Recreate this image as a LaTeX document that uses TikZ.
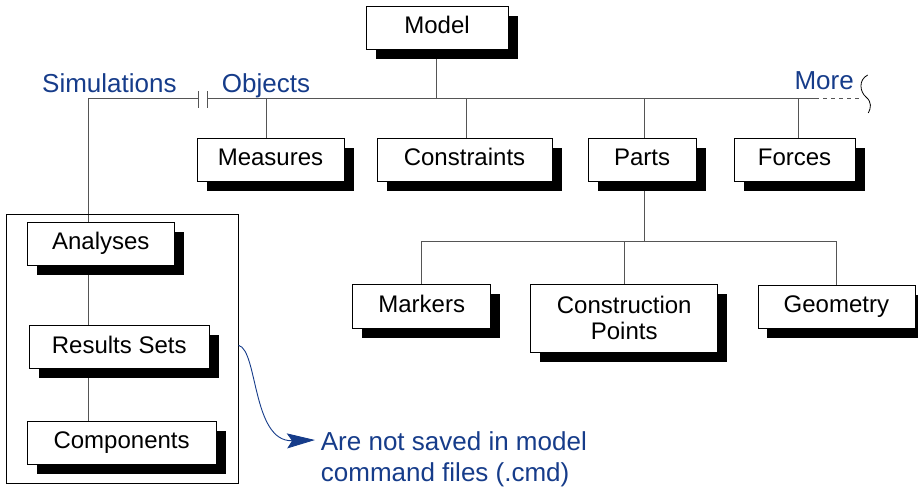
\documentclass[tikz,border=0pt]{standalone}
\usepackage{fontspec}
\setmainfont{Liberation Sans}
\usetikzlibrary{shadows,arrows.meta,calc,backgrounds}
\definecolor{navy}{RGB}{22,60,138}
\definecolor{connc}{RGB}{85,85,85}
\begin{document}
\begin{tikzpicture}[x=1pt,y=-1pt,
  box/.style={draw=black, line width=0.8pt, fill=white, rectangle, inner sep=0pt,
    minimum height=43pt, font=\fontsize{24}{26}\selectfont, align=center,
    general shadow={fill=black, shadow xshift=9.5pt, shadow yshift=-9.5pt}},
  oneline/.style={text height=17.5pt, text depth=5.5pt},
  conn/.style={draw=connc, line width=1pt},
  bluelabel/.style={text=navy, font=\fontsize{26}{31.5}\selectfont, inner sep=0pt, anchor=base west},
]
\useasboundingbox (0,0) rectangle (918,488);
\clip (0,0) rectangle (918,488);

% frame around simulations
\node[draw=black, line width=0.8pt, minimum width=232pt, minimum height=269pt, inner sep=0pt, anchor=north west] (frame) at (5.7,214.3) {};

% boxes
\node[box,oneline,minimum width=142pt] (model) at (437,27.5) {Model};
\node[box,oneline,minimum width=147pt] (measures) at (270.5,159.5) {Measures};
\node[box,oneline,minimum width=175pt] (constraints) at (464.5,159.5) {Constraints};
\node[box,oneline,minimum width=108pt] (parts) at (642,159.5) {Parts};
\node[box,oneline,minimum width=121pt] (forces) at (794.5,159.5) {Forces};
\node[box,oneline,minimum width=138pt,minimum height=44pt] (markers) at (421.7,306) {Markers};
\node[box,minimum width=187pt,minimum height=68pt] (construction) at (624.2,318) {Construction\\Points};
\node[box,oneline,minimum width=157pt] (geometry) at (836.4,306.5) {Geometry};
\node[box,oneline,minimum width=147pt] (analyses) at (100.8,243.6) {Analyses};
\node[box,oneline,minimum width=180pt] (results) at (119.2,347) {Results Sets};
\node[box,oneline,minimum width=189pt] (components) at (121.6,442.6) {Components};

% labels
\node[bluelabel] (sim) at (42,92.3) {Simulations};
\node[bluelabel] (obj) at (221.7,92.3) {Objects};
\node[bluelabel] (more) at (794.3,89.3) {More};
\node[bluelabel, align=left] (note) at (320.7,481.5) {Are not saved in model\\command files (.cmd)};

% coordinates
\coordinate (busL) at (88,98);
\coordinate (breakA) at (198,98);
\coordinate (breakB) at (207,98);
\coordinate (busR) at (815,98);
\coordinate (busEnd) at (861,98);
\coordinate (dmodel) at (436,98);
\coordinate (d1) at (266,98);
\coordinate (d2) at (466.7,98);
\coordinate (d3) at (644,98);
\coordinate (d4) at (798,98);
\coordinate (pbus) at (644,241);
\coordinate (sbL) at (421.7,241);
\coordinate (sbM) at (624.3,241);
\coordinate (sbR) at (836,241);
\coordinate (tip) at (315,440);

\begin{pgfonlayer}{background}
\draw[conn] (busL) -- (breakA);
\draw[conn] (breakB) -- (busR);
\draw[conn, dash pattern=on 4pt off 4pt] (busR) -- (busEnd);
\draw[conn] ($(breakA)+(0,-7)$) -- ($(breakA)+(0,10)$);
\draw[conn] ($(breakB)+(0,-7)$) -- ($(breakB)+(0,10)$);
\draw[line width=0.8pt] (867.7,75) .. controls (858,80) and (860,92) .. (866,97)
  .. controls (872,102) and (871,108) .. (868.3,113);
\draw[conn] (dmodel) -- (dmodel |- model.south);
\draw[conn] (d1) -- (d1 |- measures.north);
\draw[conn] (d2) -- (d2 |- constraints.north);
\draw[conn] (d3) -- (d3 |- parts.north);
\draw[conn] (d4) -- (d4 |- forces.north);
\draw[conn] (pbus |- parts.south) -- (pbus);
\draw[conn] (sbL) -- (sbR);
\draw[conn] (sbL) -- (sbL |- markers.north);
\draw[conn] (sbM) -- (sbM |- construction.north);
\draw[conn] (sbR) -- (sbR |- geometry.north);
\draw[conn] (busL) -- (busL |- analyses.north);
\draw[conn] (busL |- analyses.south) -- (busL |- results.north);
\draw[conn] (busL |- results.south) -- (busL |- components.north);
\end{pgfonlayer}

\draw[navy, line width=0.9pt, -{Stealth[length=28pt,width=15pt,inset=5pt]}]
  ($(frame.north east)+(0,131)$) .. controls (258,350) and (252,442) .. (tip);
\end{tikzpicture}
\end{document}
